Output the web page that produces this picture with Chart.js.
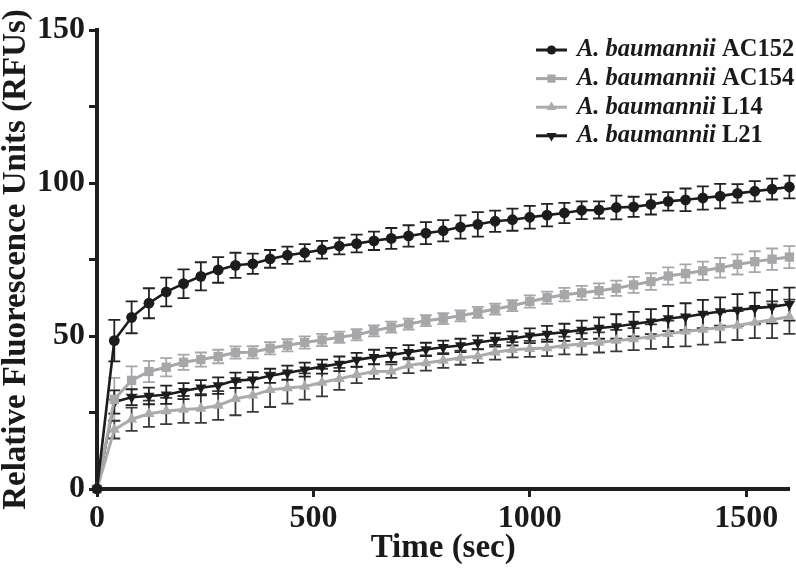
<!DOCTYPE html>
<html>
<head>
<meta charset="utf-8">
<script src="https://cdn.jsdelivr.net/npm/chart.js@4.4.1/dist/chart.umd.min.js"></script>
<style>
  html, body { margin: 0; padding: 0; background: #ffffff; }
  #wrap { width: 796px; height: 577px; position: relative; }
</style>
</head>
<body>
<div id="wrap"><canvas id="c" width="796" height="577"></canvas></div>
<script>
// ---- data ----
const timeSec = [0, 40, 80, 120, 160, 200, 240, 280, 320, 360, 400, 440, 480, 520, 560, 600, 640, 680, 720, 760, 800, 840, 880, 920, 960, 1000, 1040, 1080, 1120, 1160, 1200, 1240, 1280, 1320, 1360, 1400, 1440, 1480, 1520, 1560, 1600];

const seriesNames = ["AC152", "AC154", "L14", "L21"];
const speciesName = "A. baumannii";

const ac152 = [0, 48.5, 56.1, 60.7, 64.4, 67.1, 69.5, 71.6, 73.1, 73.6, 75.2, 76.4, 77.2, 78.2, 79.4, 80.2, 81.1, 81.9, 82.7, 83.6, 84.4, 85.6, 86.5, 87.5, 88.0, 88.8, 89.5, 90.2, 91.1, 91.2, 92.0, 92.2, 93.0, 94.0, 94.5, 95.1, 95.7, 96.6, 97.3, 98.0, 98.7];
const ac152Err = [0, 6.8, 5.2, 4.9, 4.7, 4.7, 4.6, 4.2, 4.1, 3.3, 2.9, 2.8, 2.8, 2.9, 2.7, 2.9, 3.0, 3.4, 3.5, 3.6, 3.5, 3.8, 4.0, 3.5, 3.6, 3.7, 3.7, 3.3, 2.9, 2.8, 3.9, 3.3, 3.3, 3.0, 3.7, 3.8, 4.0, 3.0, 3.3, 3.4, 3.7];

const ac154 = [0, 29.3, 35.5, 38.4, 39.8, 41.4, 42.3, 43.3, 44.6, 44.7, 46.0, 47.0, 47.9, 48.7, 49.6, 50.4, 51.7, 52.9, 53.9, 55.0, 55.7, 56.6, 57.7, 58.8, 59.9, 61.3, 62.5, 63.5, 64.1, 64.8, 65.6, 66.7, 67.8, 69.6, 70.4, 71.3, 72.3, 73.4, 74.3, 75.1, 75.8];
const ac154Err = [0, 7.0, 4.6, 3.5, 3.0, 2.5, 2.3, 2.2, 2.0, 2.0, 2.0, 2.0, 2.0, 2.0, 1.8, 1.8, 1.8, 1.8, 1.8, 1.8, 1.8, 1.8, 1.8, 1.8, 1.8, 2.0, 2.0, 2.2, 2.3, 2.4, 2.5, 2.6, 2.7, 2.8, 3.0, 3.0, 3.2, 3.3, 3.4, 3.5, 3.6];

const l14 = [0, 19.4, 22.8, 24.6, 25.5, 26.0, 26.3, 27.3, 29.5, 30.6, 32.4, 33.0, 33.5, 34.8, 36.0, 37.3, 38.4, 38.5, 40.4, 41.2, 42.0, 42.9, 43.4, 44.7, 45.5, 45.8, 46.1, 46.9, 47.4, 47.9, 48.5, 49.0, 49.8, 50.7, 51.5, 52.1, 52.8, 53.4, 54.4, 55.3, 56.3];
const l14Err = [0, 2.9, 3.8, 4.3, 4.3, 4.4, 4.7, 4.7, 5.4, 5.4, 5.6, 5.1, 4.3, 4.5, 3.6, 2.7, 2.4, 2.2, 2.5, 2.5, 2.4, 2.3, 2.2, 2.4, 2.5, 2.6, 2.7, 2.9, 3.5, 3.3, 3.5, 3.6, 4.0, 4.3, 4.9, 4.9, 4.9, 4.7, 5.1, 6.0, 5.6];

const l21 = [0, 28.4, 30.0, 30.4, 30.8, 32.0, 33.1, 33.8, 35.5, 35.7, 37.0, 38.0, 39.0, 40.0, 40.9, 42.2, 43.1, 43.8, 44.7, 45.6, 46.3, 46.9, 47.9, 48.7, 49.2, 50.1, 50.7, 51.2, 52.0, 52.6, 53.1, 53.9, 54.7, 55.7, 56.3, 57.2, 58.0, 58.5, 59.1, 59.6, 60.4];
const l21Err = [0, 3.8, 2.6, 2.7, 3.0, 2.6, 2.5, 2.7, 2.5, 2.5, 2.3, 2.3, 2.3, 2.3, 2.4, 2.3, 2.4, 2.3, 2.3, 2.2, 2.2, 2.2, 2.2, 2.2, 2.3, 2.4, 2.6, 2.8, 3.0, 3.5, 4.0, 4.0, 4.1, 4.1, 4.4, 4.6, 4.6, 5.2, 5.1, 5.5, 5.4];

const xTickValues = [0, 500, 1000, 1500];
const yLabelValues = [0, 50, 100, 150];

const xTitle = "Time (sec)";
const yTitle = "Relative Fluorescence Units (RFUs)";

// ---- styles ----
const BLACK = "#1c1c1c";
const GREY = "#a7a7aa";
const GREY2 = "#ababae";
const SERIF = '"Liberation Serif", "Times New Roman", serif';

function pts(vals) { return timeSec.map((t, i) => ({ x: t, y: vals[i] })); }

const datasets = [
  { label: seriesNames[0], data: pts(ac152), err: ac152Err, errColor: "#222222",
    borderColor: BLACK, backgroundColor: BLACK, pointStyle: "circle", pointRadius: 5.4, borderWidth: 2.6 },
  { label: seriesNames[1], data: pts(ac154), err: ac154Err, errColor: "#a7a7aa",
    borderColor: GREY, backgroundColor: GREY, pointStyle: "rect", pointRadius: 6.6, borderWidth: 3 },
  { label: seriesNames[2], data: pts(l14), err: l14Err, errColor: "#3a3a3a",
    borderColor: GREY2, backgroundColor: GREY2, pointStyle: "triangle", pointRadius: 6.4, borderWidth: 3 },
  { label: seriesNames[3], data: pts(l21), err: l21Err, errColor: "#222222",
    borderColor: BLACK, backgroundColor: BLACK, pointStyle: "triangle", pointRotation: 180, pointRadius: 6.4, borderWidth: 2.6 }
].map(d => Object.assign({
  showLine: true, tension: 0, clip: false, pointBorderWidth: 0,
  pointBackgroundColor: d.backgroundColor, pointBorderColor: d.borderColor,
  pointHoverRadius: d.pointRadius
}, d));

function drawMarker(ctx, style, x, y, r, rot) {
  ctx.beginPath();
  if (style === "circle") {
    ctx.arc(x, y, r, 0, Math.PI * 2);
  } else if (style === "rect") {
    const s = r * Math.SQRT1_2;
    ctx.rect(x - s, y - s, 2 * s, 2 * s);
  } else {
    const dir = rot === 180 ? -1 : 1;
    ctx.moveTo(x, y - dir * r);
    ctx.lineTo(x + r * 0.866, y + dir * r * 0.5);
    ctx.lineTo(x - r * 0.866, y + dir * r * 0.5);
    ctx.closePath();
  }
  ctx.fill();
}

const errorBars = {
  id: "errorBars",
  beforeDatasetsDraw(chart) {
    const ctx = chart.ctx;
    const xs = chart.scales.x, ys = chart.scales.y;
    ctx.save();
    chart.data.datasets.forEach(ds => {
      ctx.strokeStyle = ds.errColor;
      ctx.lineWidth = 1.8;
      ds.data.forEach((p, i) => {
        const e = ds.err[i];
        if (!e) return;
        const x = xs.getPixelForValue(p.x);
        const yt = ys.getPixelForValue(p.y + e);
        const yb = ys.getPixelForValue(p.y - e);
        ctx.beginPath();
        ctx.moveTo(x, yt); ctx.lineTo(x, yb);
        ctx.moveTo(x - 6, yt); ctx.lineTo(x + 6, yt);
        ctx.moveTo(x - 6, yb); ctx.lineTo(x + 6, yb);
        ctx.stroke();
      });
    });
    ctx.restore();
  }
};

const customLegend = {
  id: "customLegend",
  afterDraw(chart) {
    const ctx = chart.ctx;
    ctx.save();
    chart.data.datasets.forEach((ds, i) => {
      const y = 50 + i * 28.6;
      ctx.strokeStyle = ds.borderColor;
      ctx.lineWidth = 3;
      ctx.beginPath(); ctx.moveTo(536, y); ctx.lineTo(567, y); ctx.stroke();
      ctx.fillStyle = ds.backgroundColor;
      drawMarker(ctx, ds.pointStyle, 551.5, y, ds.pointStyle === "circle" ? 4.6 : 5.8, ds.pointRotation);
      ctx.fillStyle = "#1a1a1a";
      ctx.textBaseline = "middle";
      ctx.textAlign = "left";
      ctx.font = "italic bold 24.5px " + SERIF;
      const t1 = speciesName + " ";
      ctx.fillText(t1, 577, y);
      const w = ctx.measureText(t1).width;
      ctx.font = "bold 24.5px " + SERIF;
      ctx.fillText(ds.label, 577 + w, y);
    });
    ctx.restore();
  }
};

new Chart(document.getElementById("c"), {
  type: "scatter",
  data: { datasets },
  plugins: [errorBars, customLegend],
  options: {
    responsive: false,
    animation: false,
    events: [],
    layout: { padding: { top: 30, right: 4, left: 0, bottom: 0 } },
    plugins: { legend: { display: false }, tooltip: { enabled: false } },
    scales: {
      x: {
        type: "linear", min: 0, max: 1600,
        afterFit(s) { s.height = 88; },
        afterBuildTicks(s) { s.ticks = xTickValues.map(v => ({ value: v })); },
        grid: { display: true, drawOnChartArea: false, drawTicks: true, tickLength: 8, tickWidth: 3, tickColor: "#1f1f1f" },
        border: { display: true, width: 4, color: "#1f1f1f" },
        ticks: { color: "#1a1a1a", padding: 3, maxRotation: 0,
                 callback: v => String(v),
                 font: { family: SERIF, size: 32, weight: "bold" } },
        title: { display: true, text: xTitle, color: "#1a1a1a", padding: { top: 0, bottom: 12 },
                 font: { family: SERIF, size: 33, weight: "bold", lineHeight: 1.0 } }
      },
      y: {
        type: "linear", min: 0, max: 150,
        afterFit(s) { s.width = 97; },
        ticks: { stepSize: 25, color: "#1a1a1a", padding: 4,
                 callback: v => (yLabelValues.includes(v) ? String(v) : ""),
                 font: { family: SERIF, size: 32, weight: "bold" } },
        grid: { display: true, drawOnChartArea: false, drawTicks: true, tickLength: 8, tickWidth: 3, tickColor: "#1f1f1f" },
        border: { display: true, width: 4, color: "#1f1f1f" },
        title: { display: true, text: yTitle, color: "#1a1a1a", padding: { top: 0, bottom: 0 },
                 font: { family: SERIF, size: 33, weight: "bold", lineHeight: 1.0 } }
      }
    }
  }
});
</script>
</body>
</html>
